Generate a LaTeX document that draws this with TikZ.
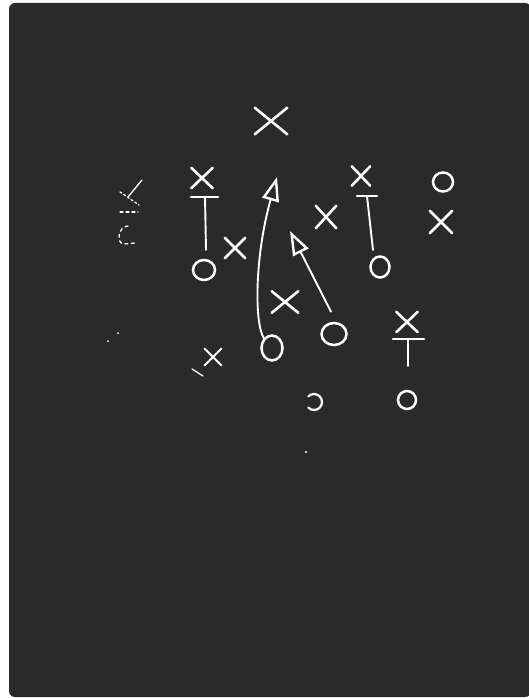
\documentclass[tikz,border=0pt]{standalone}
\usetikzlibrary{shapes.misc,shapes.geometric,arrows.meta}
\definecolor{board}{HTML}{2A2A2A}
\begin{document}
\begin{tikzpicture}[x=1pt,y=-1pt,
  chalk/.style={draw=white,line width=2.6pt,line cap=round},
  thinchalk/.style={draw=white,line width=1.9pt,line cap=round},
  faint/.style={draw=white,line width=1.3pt,line cap=round},
  xmark/.style={cross out,draw=white,line width=2.6pt,line cap=round,inner sep=0pt},
  omark/.style={ellipse,draw=white,line width=2.5pt,inner sep=0pt},
  head/.style={-{Triangle[open,length=24pt,width=17pt,line width=2.4pt]}}]
\useasboundingbox (0,0) rectangle (528,698);
\fill[white] (0,0) rectangle (528,698);
\fill[board,rounded corners=6pt] (9,3) rectangle (531,697);

% X marks
\node[xmark,minimum width=30pt,minimum height=24pt] (x1) at (271,121) {};
\node[xmark,minimum width=19pt,minimum height=18pt] (x2) at (202,178) {};
\node[xmark,minimum width=18pt,minimum height=18pt] (x3) at (235,248) {};
\node[xmark,minimum width=18pt,minimum height=20pt] (x4) at (326,217) {};
\node[xmark,minimum width=16pt,minimum height=17pt] (x5) at (361,176) {};
\node[xmark,minimum width=20pt,minimum height=20pt] (x6) at (441,222) {};
\node[xmark,minimum width=24pt,minimum height=19pt] (x7) at (285,302) {};
\node[xmark,minimum width=19pt,minimum height=18pt] (x8) at (407,322) {};
\node[xmark,line width=2pt,minimum width=15pt,minimum height=15pt] (x9) at (213,357) {};

% O marks
\node[omark,minimum width=22pt,minimum height=20pt] (oa) at (204,270) {};
\node[omark,minimum width=19pt,minimum height=21pt] (ob) at (380,267) {};
\node[omark,minimum width=20pt,minimum height=19pt] (oc) at (443,182) {};
\node[omark,minimum width=21pt,minimum height=25pt] (od) at (272,348) {};
\node[omark,minimum width=25pt,minimum height=22pt] (oe) at (334,334) {};
\node[omark,minimum width=18pt,minimum height=18pt] (of) at (407,400) {};

% T blocks
\draw[chalk] (191,197) -- (218,197);
\draw[thinchalk] (205,197) -- (206,250);
\draw[chalk] (357,196) -- (377,196);
\draw[thinchalk] (367,196) -- (373,250);
\draw[chalk] (393,339) -- (424,339);
\draw[thinchalk] (408,339) -- (408,366);

% routes
\coordinate (t1) at (277,177);
\coordinate (t2) at (290,231);
\draw[thinchalk,head] (od.130) .. controls (254,322) and (255,255) .. (t1);
\draw[thinchalk,head] ([shift={(-3,-10)}]oe.north) -- (t2);

% fragments
\draw[chalk,line width=2.2pt] (314,402) ++(-135:8) arc[start angle=-135,end angle=135,radius=8];
\fill[white] (306,452) circle (1.2pt);
\draw[faint] (192,369) -- (203,376);
\fill[white] (118,333) circle (1pt);
\fill[white] (108,341) circle (1pt);

% faint left marks
\draw[faint] (142,180) -- (128,197);
\draw[faint,dash pattern=on 2pt off 2.5pt] (120,192) -- (139,205);
\draw[faint,dash pattern=on 3pt off 3pt] (120,212) -- (138,212);
\draw[faint,dash pattern=on 3pt off 3.5pt] (128,226) .. controls (118,226) and (116,244) .. (124,244) -- (135,243);
\end{tikzpicture}
\end{document}
